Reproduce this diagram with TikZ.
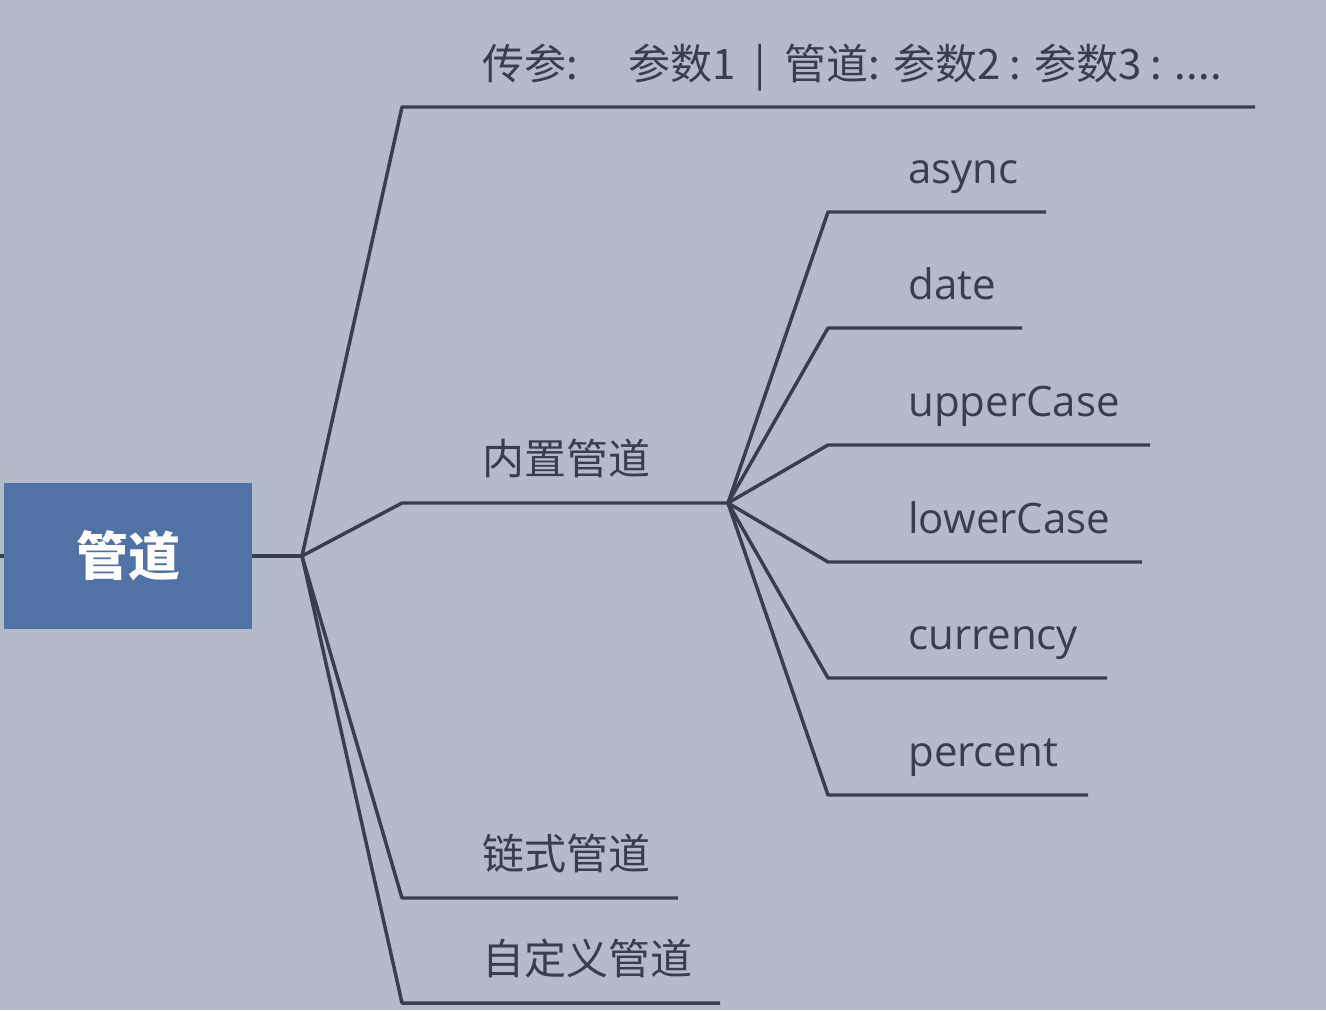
\documentclass[tikz,border=0pt]{standalone}
\usepackage{fontspec}
\setmainfont{Open Sans}
\newfontfamily\cjk{Noto Sans CJK SC}
\usetikzlibrary{positioning}
\definecolor{bgblue}{RGB}{179,187,202}
\definecolor{rootblue}{RGB}{81,114,165}
\definecolor{linegray}{RGB}{55,63,77}
\tikzset{branch/.style={draw=linegray, line width=2.6pt, line join=round}}
\tikzstyle{leaf} = [text=linegray, anchor=base west, inner sep=0pt, font=\fontsize{31.5}{32}\selectfont]
\tikzstyle{cnleaf} = [leaf, font=\cjk\fontsize{31.5}{32}\selectfont]

\begin{document}
\begin{tikzpicture}[x=0.75pt, y=-0.75pt]
\fill [bgblue] (0, 0) rectangle (1326, 1010);
\useasboundingbox (0, 0) rectangle (1326, 1010);

\node [rectangle, fill=rootblue, minimum width=186pt, minimum height=109.5pt, inner sep=0pt, text=white, font=\cjk\bfseries\fontsize{39}{40}\selectfont] (R0) at (128, 556) {管道};
\coordinate (S0) at (0, 556);
\coordinate (H0) at (302, 556);
\coordinate (H1) at (728, 503);

% first level
\coordinate (B1) at (402, 107);  \coordinate (E1) at (1255, 107);
\coordinate (B2) at (402, 503);
\coordinate (B3) at (402, 898);  \coordinate (E3) at (678, 898);
\coordinate (B4) at (402, 1003); \coordinate (E4) at (720, 1003);

\node [cnleaf] (P1) at (482, 79) {传参:\hspace{38pt}参数1\ \ |\ \ 管道: 参数2 : 参数3 : ....};
\node [cnleaf] (P2) at (482, 474) {内置管道};
\node [cnleaf] (P3) at (482, 869) {链式管道};
\node [cnleaf] (P4) at (482, 974) {自定义管道};

% second level
\coordinate (C1) at (828, 212); \coordinate (F1) at (1046, 212);
\coordinate (C2) at (828, 328); \coordinate (F2) at (1022, 328);
\coordinate (C3) at (828, 445); \coordinate (F3) at (1150, 445);
\coordinate (C4) at (828, 562); \coordinate (F4) at (1142, 562);
\coordinate (C5) at (828, 678); \coordinate (F5) at (1107, 678);
\coordinate (C6) at (828, 795); \coordinate (F6) at (1088, 795);

\node [leaf] (Q1) at (908, 183) {async};
\node [leaf] (Q2) at (908, 299) {date};
\node [leaf] (Q3) at (908, 416) {upperCase};
\node [leaf] (Q4) at (908, 533) {lowerCase};
\node [leaf] (Q5) at (908, 649) {currency};
\node [leaf] (Q6) at (908, 766) {percent};

\draw [branch] (S0) -- (R0.west);
\draw [branch] (R0.east) -- (H0);
\draw [branch] (H0) -- (B1) -- (E1);
\draw [branch] (H0) -- (B2) -- (H1);
\draw [branch] (H0) -- (B3) -- (E3);
\draw [branch] (H0) -- (B4) -- (E4);

\draw [branch] (H1) -- (C1) -- (F1);
\draw [branch] (H1) -- (C2) -- (F2);
\draw [branch] (H1) -- (C3) -- (F3);
\draw [branch] (H1) -- (C4) -- (F4);
\draw [branch] (H1) -- (C5) -- (F5);
\draw [branch] (H1) -- (C6) -- (F6);
\end{tikzpicture}
\end{document}
